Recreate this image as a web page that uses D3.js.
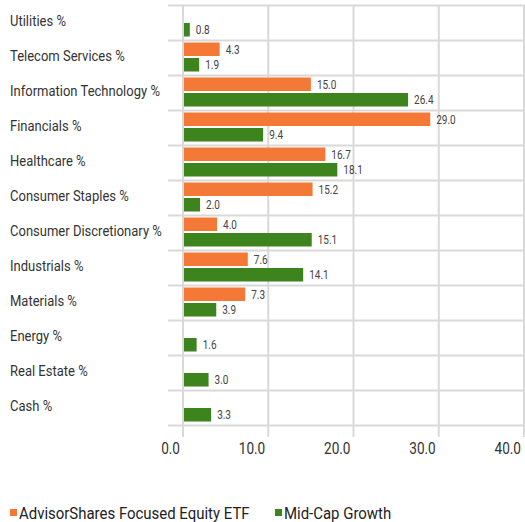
<!DOCTYPE html>
<html>
<head>
<meta charset="utf-8">
<script src="https://cdn.jsdelivr.net/npm/d3@7"></script>
<style>
  body { margin: 0; background: #fff; }
  text { font-family: "Roboto", sans-serif; }
</style>
</head>
<body>
<svg id="chart" width="525" height="522"></svg>
<script>
const categories = ["Utilities %", "Telecom Services %", "Information Technology %", "Financials %",
  "Healthcare %", "Consumer Staples %", "Consumer Discretionary %", "Industrials %",
  "Materials %", "Energy %", "Real Estate %", "Cash %"];
const fundValues = [null, 4.3, 15.0, 29.0, 16.7, 15.2, 4.0, 7.6, 7.3, null, null, null];
const benchValues = [0.8, 1.9, 26.4, 9.4, 18.1, 2.0, 15.1, 14.1, 3.9, 1.6, 3.0, 3.3];
const seriesNames = ["AdvisorShares Focused Equity ETF", "Mid-Cap Growth"];
const xTicks = [0, 10, 20, 30, 40];

const colors = ["#f47936", "#3d831e"];
const grid = "#d9d9d9";

// no condensed font available, so squeeze text horizontally
const squeeze = (px, py, s) => `translate(${px},${py}) scale(${s},1)`;

const svg = d3.select("#chart");

const x = d3.scaleLinear().domain([0, 40]).range([183, 524]);
const y = d3.scaleBand().domain(categories).range([5.5, 425.5]);

// horizontal separators
const bounds = categories.map(c => y(c)).concat([y.range()[1]]);
svg.append("g").selectAll("line").data(bounds).join("line")
  .attr("x1", 168).attr("x2", 525)
  .attr("y1", d => d).attr("y2", d => d)
  .attr("stroke", grid).attr("stroke-width", 2);

// vertical grid + tick labels
const xg = svg.append("g");
xg.selectAll("line").data(xTicks).join("line")
  .attr("x1", d => x(d)).attr("x2", d => x(d))
  .attr("y1", y.range()[0]).attr("y2", 437)
  .attr("stroke", grid).attr("stroke-width", 2);
xg.selectAll("text").data(xTicks).join("text")
  .attr("transform", d => squeeze(x(d) - 3, 448, 0.85))
  .attr("dy", "0.35em")
  .attr("text-anchor", "end")
  .attr("font-size", 16).attr("fill", "#333")
  .text(d => d3.format(".1f")(d));

// category labels
svg.append("g").selectAll("text").data(categories).join("text")
  .attr("transform", d => squeeze(10, y(d) + 15.5, 0.84))
  .attr("dy", "0.35em")
  .attr("font-size", 15.5).attr("fill", "#333")
  .text(d => d);

// bars
const series = [fundValues, benchValues];
const offsets = [2, 17.5];
const barH = 13.5;
series.forEach((vals, i) => {
  const rows = categories.map((c, j) => ({cat: c, v: vals[j]})).filter(d => d.v != null);
  const g = svg.append("g");
  g.selectAll("rect").data(rows).join("rect")
    .attr("x", x(0) + 1)
    .attr("y", d => y(d.cat) + offsets[i])
    .attr("width", d => x(d.v) - x(0) - 1)
    .attr("height", barH)
    .attr("fill", colors[i]);
  g.selectAll("text").data(rows).join("text")
    .attr("transform", d => squeeze(x(d.v) + 6, y(d.cat) + offsets[i] + barH / 2, 0.8))
    .attr("dy", "0.35em")
    .attr("font-size", 12.5).attr("fill", "#444")
    .text(d => d3.format(".1f")(d.v));
});

// legend
const legX = [10, 275];
const leg = svg.append("g").selectAll("g").data(seriesNames).join("g")
  .attr("transform", (d, i) => `translate(${legX[i]},509)`);
leg.append("rect").attr("width", 7).attr("height", 7).attr("fill", (d, i) => colors[i]);
leg.append("text")
  .attr("transform", squeeze(9, 4, 0.88))
  .attr("dy", "0.35em")
  .attr("font-size", 17).attr("fill", "#222")
  .text(d => d);
</script>
</body>
</html>
